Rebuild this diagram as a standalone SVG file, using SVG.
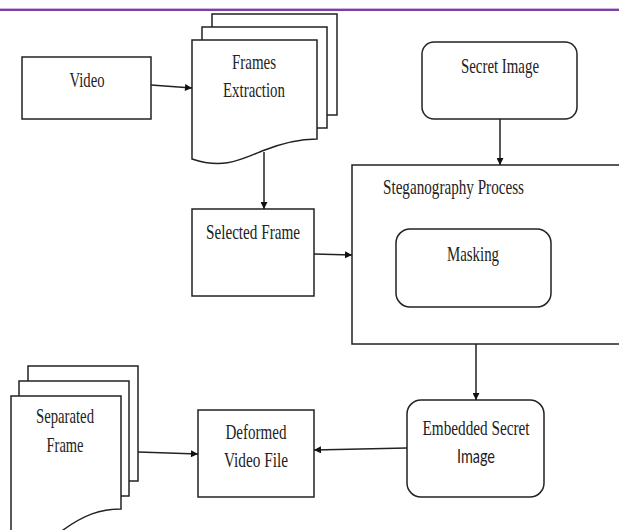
<svg xmlns="http://www.w3.org/2000/svg" width="619" height="530" viewBox="0 0 619 530">
<defs>
<style>
.shape{fill:#fff;stroke:#222;stroke-width:1.5}
.conn{fill:none;stroke:#222;stroke-width:1.5}
.t{font-family:"Liberation Serif","Times New Roman",serif;font-size:22px;fill:#222;text-anchor:middle}
.s{font-family:Lato,"Liberation Sans",sans-serif;font-size:19px;fill:#222;text-anchor:middle}
</style>
<marker id="arr" viewBox="0 0 10 10" refX="10" refY="5" markerWidth="8" markerHeight="7" markerUnits="userSpaceOnUse" orient="auto">
<path d="M0,0 L10,5 L0,10 z" fill="#111"/>
</marker>
</defs>
<rect width="619" height="530" fill="#fff"/>
<line x1="0" y1="8.5" x2="619" y2="8.5" stroke="#cbb6e0" stroke-width="1"/>
<line x1="0" y1="10" x2="619" y2="10" stroke="#7b3fa6" stroke-width="2"/>

<g id="video">
<rect class="shape" x="22" y="57" width="129" height="62"/>
<text class="t" x="87" y="87" textLength="35" lengthAdjust="spacingAndGlyphs">Video</text>
</g>

<g id="frames-extraction">
<rect class="shape" x="212" y="14" width="125" height="101"/>
<rect class="shape" x="202" y="27" width="125" height="101"/>
<path class="shape" d="M192,40 H317 V139 C298,139 282,143 262,151 C238,161 222,169 192,159 Z"/>
<text class="t" x="254" y="69" textLength="44" lengthAdjust="spacingAndGlyphs">Frames</text>
<text class="t" x="254" y="97" textLength="62" lengthAdjust="spacingAndGlyphs">Extraction</text>
</g>

<g id="secret-image">
<rect class="shape" x="422" y="42" width="155" height="77" rx="12"/>
<text class="t" x="500" y="73" textLength="78" lengthAdjust="spacingAndGlyphs">Secret Image</text>
</g>

<g id="selected-frame">
<rect class="shape" x="192" y="209" width="122" height="87"/>
<text class="t" x="253" y="239" textLength="94" lengthAdjust="spacingAndGlyphs">Selected Frame</text>
</g>

<g id="steganography-process">
<rect class="shape" x="352" y="165" width="280" height="179"/>
<text class="t" x="453.5" y="194" textLength="141" lengthAdjust="spacingAndGlyphs">Steganography Process</text>
</g>

<g id="masking">
<rect class="shape" x="396" y="229" width="155" height="78" rx="14"/>
<text class="t" x="473" y="261" textLength="52" lengthAdjust="spacingAndGlyphs">Masking</text>
</g>

<g id="embedded-secret-image">
<rect class="shape" x="407" y="400" width="137" height="97" rx="14"/>
<text class="t" x="476" y="435" textLength="107" lengthAdjust="spacingAndGlyphs">Embedded Secret</text>
<text class="s" x="476" y="463" textLength="38" lengthAdjust="spacingAndGlyphs">Image</text>
</g>

<g id="deformed-video-file">
<rect class="shape" x="198" y="410" width="116" height="87"/>
<text class="t" x="256" y="439" textLength="61" lengthAdjust="spacingAndGlyphs">Deformed</text>
<text class="t" x="256" y="467" textLength="64" lengthAdjust="spacingAndGlyphs">Video File</text>
</g>

<g id="separated-frame">
<rect class="shape" x="28" y="366" width="110" height="115"/>
<rect class="shape" x="19" y="381" width="110" height="115"/>
<path class="shape" d="M11,396 H121 V509 C100,509 84,515 63,530 C45,543 28,548 11,545 Z"/>
<text class="t" x="65" y="423" textLength="58" lengthAdjust="spacingAndGlyphs">Separated</text>
<text class="t" x="65" y="452" textLength="37" lengthAdjust="spacingAndGlyphs">Frame</text>
</g>

<g id="connectors">
<line class="conn" x1="151" y1="85" x2="192" y2="88" marker-end="url(#arr)"/>
<line class="conn" x1="264" y1="152" x2="264" y2="209" marker-end="url(#arr)"/>
<line class="conn" x1="314" y1="254" x2="352" y2="255" marker-end="url(#arr)"/>
<line class="conn" x1="500" y1="119" x2="500" y2="165" marker-end="url(#arr)"/>
<line class="conn" x1="476" y1="344" x2="476" y2="400" marker-end="url(#arr)"/>
<line class="conn" x1="407" y1="448" x2="314" y2="450" marker-end="url(#arr)"/>
<line class="conn" x1="138" y1="452" x2="198" y2="454" marker-end="url(#arr)"/>
</g>
</svg>
